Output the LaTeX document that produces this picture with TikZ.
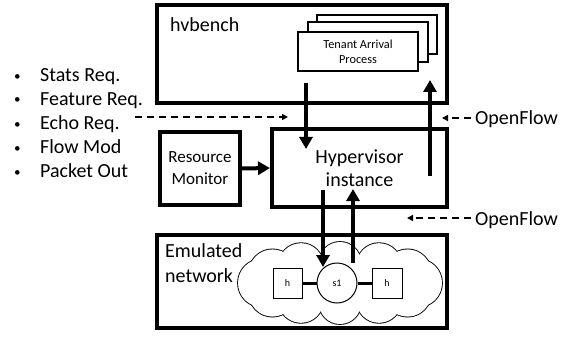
\documentclass[tikz,border=0pt]{standalone}
\usepackage{fontspec}
\setmainfont{Carlito}
\usetikzlibrary{arrows.meta}
\begin{document}
\begin{tikzpicture}[x=1pt,y=-1pt,
  bigbox/.style={draw,line width=4pt,inner sep=0pt},
  thinbox/.style={draw,line width=1.4pt,fill=white,inner sep=0pt},
  netbox/.style={draw,line width=1pt,fill=white,inner sep=0pt,font=\fontsize{10}{12}\selectfont},
  bigarrow/.style={line width=4pt,-{Triangle[width=13pt,length=12pt]}},
  dasharrow/.style={line width=1.6pt,dash pattern=on 7pt off 5pt,-{Triangle[width=6pt,length=6pt]}},
  lbl/.style={inner sep=0pt,font=\fontsize{20}{23}\selectfont},
  link/.style={line width=3pt}]
\useasboundingbox (0,0) rectangle (569,339);
% hvbench
\node[bigbox,minimum width=290pt,minimum height=98pt] (hvb) at (302,54) {};
\node[lbl,anchor=base west] (hvbl) at (170,32) {hvbench};
\node[thinbox,minimum width=120pt,minimum height=39pt] (t3) at (377,34.5) {};
\node[thinbox,minimum width=120pt,minimum height=40pt] (t2) at (368,42) {};
\node[thinbox,minimum width=120pt,minimum height=39pt,align=center,font=\fontsize{12.3}{15}\selectfont] (t1) at (358,51.5) {Tenant Arrival\\Process};
% hypervisor
\node[bigbox,minimum width=175pt,minimum height=78pt,align=center,font=\fontsize{20}{23}\selectfont] (hyp) at (359.5,168) {Hypervisor\\instance};
% resource monitor
\node[bigbox,minimum width=80pt,minimum height=73pt,align=center,font=\fontsize{17}{22}\selectfont] (rm) at (200,168.5) {Resource\\Monitor};
% emulated network
\node[bigbox,minimum width=290pt,minimum height=93pt] (emu) at (302,281.5) {};
\node[lbl,anchor=base west] (em1) at (165,257) {Emulated};
\node[lbl,anchor=base west] (em2) at (165,282) {network};
% cloud: union of puffs (black outline layer, then white fill layer)
\foreach \a in {0,30,...,330}{
  \pgfmathsetmacro{\r}{21+3*abs(cos(\a))}
  \draw[line width=1.8pt] ({340+78*cos(\a)},{283+20*sin(\a)}) circle[radius=\r];
}
\foreach \a in {0,30,...,330}{
  \pgfmathsetmacro{\r}{21+3*abs(cos(\a))}
  \fill[white] ({340+78*cos(\a)},{283+20*sin(\a)}) circle[radius=\r];
}
\fill[white] (340,283) ellipse[x radius=78, y radius=20];
\node[netbox,minimum width=29pt,minimum height=30pt] (h1) at (287.5,283) {h};
\node[netbox,circle,minimum size=40pt] (s1) at (337,283) {s1};
\node[netbox,minimum width=30pt,minimum height=30pt] (h2) at (387,283) {h};
\draw[link] (h1) -- (s1);
\draw[link] (s1) -- (h2);
% bullet list
\foreach \n/\y/\t in {b1/82/Stats Req.,b2/105.5/Feature Req.,b3/129.5/Echo Req.,b4/153.5/Flow Mod,b5/177.5/Packet Out}{
  \node[lbl,anchor=base west] (\n) at (14,\y) {\makebox[26pt][l]{\fontsize{13}{13}\selectfont\raisebox{1.5pt}{•}}\t};
}
% OpenFlow labels
\node[lbl,anchor=base west] (of1) at (475,125) {OpenFlow};
\node[lbl,anchor=base west] (of2) at (475,225) {OpenFlow};
% coordinates
\coordinate (a1s) at (306,83);
\coordinate (a1e) at (306,149);
\coordinate (a2s) at (430,176);
\coordinate (a2e) at (430,80);
\coordinate (a3s) at (323,190);
\coordinate (a3e) at (323,267);
\coordinate (a4s) at (353,263);
\coordinate (a4e) at (353,189);
\coordinate (d1s) at (135,117);
\coordinate (d1e) at (288,117);
\coordinate (d2s) at (471,118);
\coordinate (d2e) at (442,118);
\coordinate (d3s) at (471,218);
\coordinate (d3e) at (407,218);
% arrows
\draw[bigarrow] (a1s) -- (a1e);
\draw[bigarrow] (a2s) -- (a2e);
\draw[bigarrow] (a3s) -- (a3e);
\draw[bigarrow] (a4s) -- (a4e);
\draw[bigarrow] (rm.east) -- (hyp.west);
\draw[dasharrow] (d1s) -- (d1e);
\draw[dasharrow] (d2s) -- (d2e);
\draw[dasharrow] (d3s) -- (d3e);
\end{tikzpicture}
\end{document}
